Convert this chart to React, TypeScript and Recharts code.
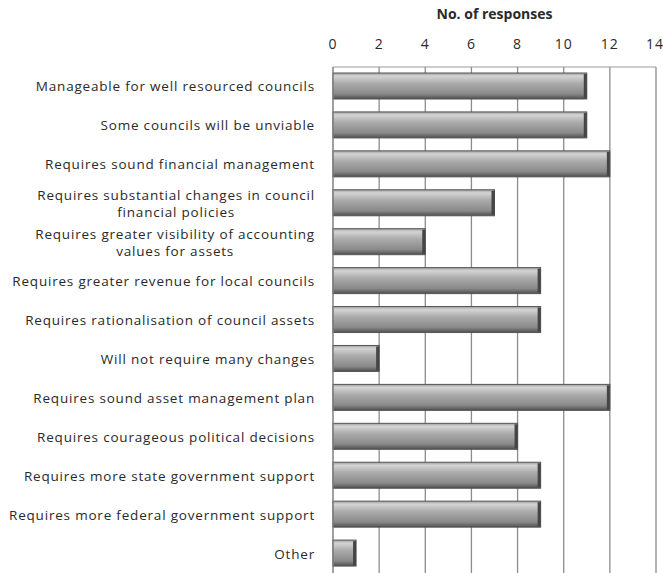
import { BarChart, Bar, XAxis, YAxis, CartesianGrid } from 'recharts'

const categories = [
  'Manageable for well resourced councils',
  'Some councils will be unviable',
  'Requires sound financial management',
  'Requires substantial changes in council|financial policies',
  'Requires greater visibility of accounting|values for assets',
  'Requires greater revenue for local councils',
  'Requires rationalisation of council assets',
  'Will not require many changes',
  'Requires sound asset management plan',
  'Requires courageous political decisions',
  'Requires more state government support',
  'Requires more federal government support',
  'Other',
]

const responses = [11, 11, 12, 7, 4, 9, 9, 2, 12, 8, 9, 9, 1]

const xTicks = [0, 2, 4, 6, 8, 10, 12, 14]

const data = categories.map((c, i) => ({ name: c, value: responses[i] }))

const FONT = '"Open Sans", Lato, sans-serif'
const LABEL_SIZE = 13.5
const SPACING = 0.8

let ctx: CanvasRenderingContext2D | null = null
function textWidth(s: string): number {
  if (!ctx) ctx = document.createElement('canvas').getContext('2d')
  if (!ctx) return s.length * 7.5
  ctx.font = `${LABEL_SIZE}px "Open Sans"`
  return ctx.measureText(s).width + s.length * SPACING
}

function CategoryTick(props: any) {
  const { x, y, payload } = props
  const lines: string[] = String(payload.value).split('|')
  const right = x - 10
  const common = {
    fontSize: LABEL_SIZE,
    fill: '#2a2a2a',
    fontFamily: FONT,
    letterSpacing: SPACING,
  }
  if (lines.length === 1) {
    return (
      <text x={right} y={y} dy={5} textAnchor="end" {...common}>
        {lines[0]}
      </text>
    )
  }
  // multi-line labels are centred on the first line, like Excel does
  const cx = right - textWidth(lines[0]) / 2
  return (
    <text textAnchor="middle" {...common}>
      {lines.map((l, i) => (
        <tspan key={i} x={cx} y={y - 8 + i * 17 + 5}>
          {l}
        </tspan>
      ))}
    </text>
  )
}

function CylinderBar(props: any) {
  const { x, y, width, height } = props
  if (!width || width <= 0) return null
  const cap = Math.min(3, width / 3)
  return (
    <g>
      <rect x={x} y={y} width={width} height={height} fill="url(#barGrad)" stroke="#555" strokeWidth={1} />
      <rect x={x + width - cap} y={y + 1} width={cap} height={height - 2} fill="#454545" />
    </g>
  )
}

export default function App() {
  return (
    <div style={{ position: 'absolute', left: 0, top: 0, background: '#fff' }}>
      <BarChart
        width={663}
        height={573}
        data={data}
        layout="vertical"
        margin={{ top: 7, right: 7, bottom: 0, left: 0 }}
        barSize={26}
      >
        <defs>
          <linearGradient id="barGrad" x1="0" y1="0" x2="0" y2="1">
            <stop offset="0%" stopColor="#a0a0a0" />
            <stop offset="12%" stopColor="#d4d4d4" />
            <stop offset="40%" stopColor="#ababab" />
            <stop offset="80%" stopColor="#8a8a8a" />
            <stop offset="100%" stopColor="#4f4f4f" />
          </linearGradient>
        </defs>
        <CartesianGrid horizontal={false} stroke="#8c8c8c" strokeWidth={1.3} />
        <XAxis
          type="number"
          orientation="top"
          domain={[0, 14]}
          ticks={xTicks}
          height={60}
          tickLine={false}
          tickMargin={12}
          axisLine={{ stroke: '#9a9a9a' }}
          tick={{ fontSize: 14, fill: '#2a2a2a', fontFamily: FONT, letterSpacing: 1 }}
          label={{
            value: 'No. of responses',
            position: 'insideTop',
            offset: 2,
            style: { fontSize: 14, fontWeight: 700, fill: '#2a2a2a', fontFamily: FONT },
          }}
        />
        <YAxis
          type="category"
          dataKey="name"
          width={333}
          interval={0}
          tickLine={false}
          axisLine={{ stroke: '#8c8c8c' }}
          tick={<CategoryTick />}
        />
        <Bar dataKey="value" shape={<CylinderBar />} isAnimationActive={false} />
      </BarChart>
    </div>
  )
}
